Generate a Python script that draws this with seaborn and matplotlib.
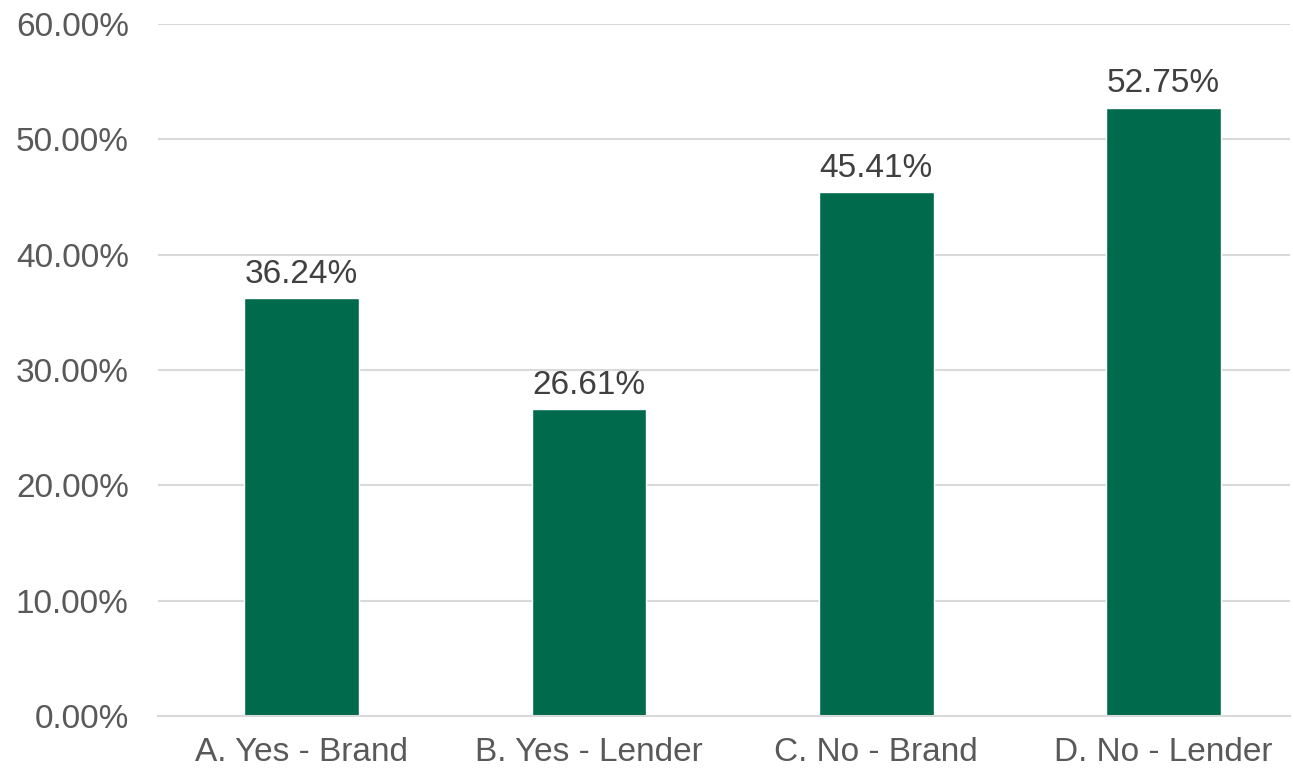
import matplotlib
matplotlib.use("Agg")
import matplotlib.pyplot as plt
import seaborn as sns
import pandas as pd
from matplotlib.ticker import FuncFormatter

categories = ["A. Yes - Brand", "B. Yes - Lender", "C. No - Brand", "D. No - Lender"]
values = [36.24, 26.61, 45.41, 52.75]
y_ticks = [0, 10, 20, 30, 40, 50, 60]

sns.set_theme(style="white")
plt.rcParams["font.family"] = ["Liberation Sans", "DejaVu Sans"]

df = pd.DataFrame({"category": categories, "value": values})

fig = plt.figure(figsize=(12.93, 7.72), dpi=100)
ax = fig.add_axes([158 / 1293, 56 / 772, (1290 - 158) / 1293, (716 - 24) / 772])

sns.barplot(data=df, x="category", y="value", color="#006B4C", saturation=1,
            width=0.40, ax=ax, zorder=3)

ax.set_ylim(0, 60)
ax.set_xlim(-0.5, 3.44)
ax.set_yticks(y_ticks)
ax.yaxis.set_major_formatter(FuncFormatter(lambda v, _: f"{v:.2f}%"))
ax.grid(axis="y", color="#D9D9D9", linewidth=1.5, zorder=0)
ax.grid(axis="x", visible=False)
for side in ["top", "right", "left"]:
    ax.spines[side].set_visible(False)
ax.spines["bottom"].set_color("#D9D9D9")
ax.spines["bottom"].set_linewidth(1.5)
ax.spines["bottom"].set_zorder(4)
ax.set_xlabel("")
ax.set_ylabel("")
ax.tick_params(axis="both", length=0, labelsize=24, colors="#595959")
ax.tick_params(axis="y", pad=21)
ax.tick_params(axis="x", pad=15)

for container in ax.containers:
    ax.bar_label(container, labels=[f"{v:.2f}%" for v in values], padding=6,
                 fontsize=24, color="#404040")

fig.savefig("out.png", dpi=100)
